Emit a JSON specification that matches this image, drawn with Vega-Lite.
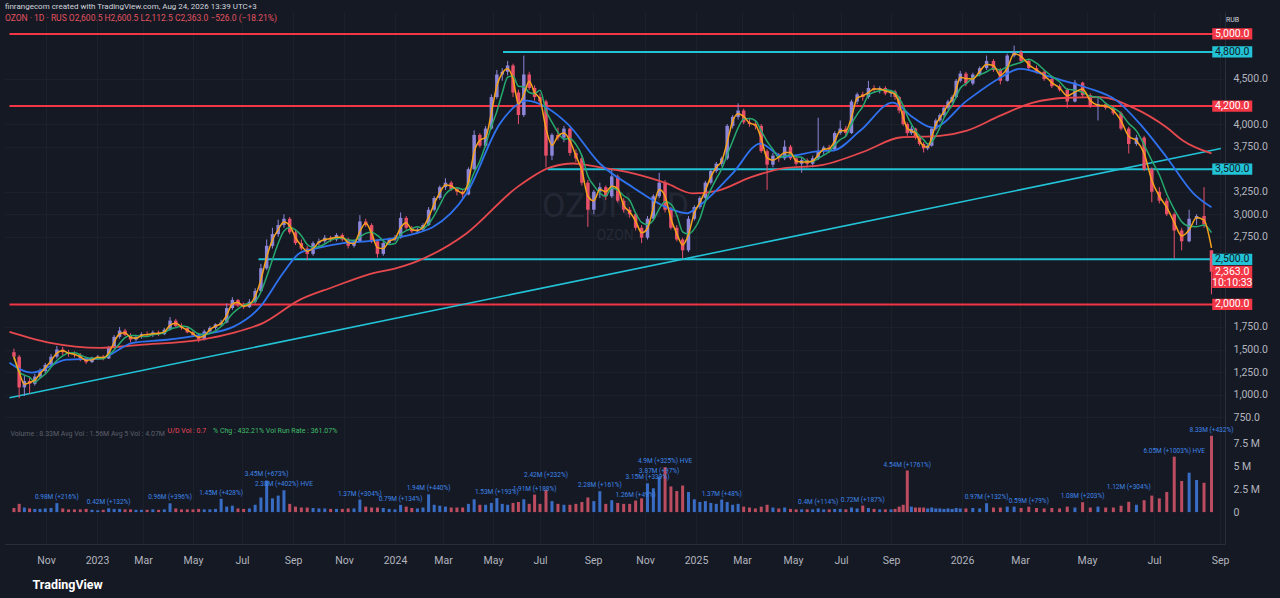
{
  "$schema": "https://vega.github.io/schema/vega-lite/v6.json",
  "width": 1280,
  "height": 598,
  "autosize": {"type": "fit", "contains": "padding"},
  "padding": {"left": 5, "right": 5, "top": 2, "bottom": 7},
  "background": "#151924",
  "title": {
    "text": "finrangecom created with TradingView.com, Aug 24, 2026 13:39 UTC+3",
    "subtitle": "OZON · 1D · RUS   O2,600.5  H2,600.5  L2,112.5  C2,363.0  −526.0 (−18.21%)",
    "anchor": "start", "frame": "group", "fontSize": 8, "fontWeight": "normal",
    "font": "Roboto", "color": "#d1d4dc", "offset": -10,
    "subtitleFont": "Roboto", "subtitleFontSize": 8.5, "subtitleColor": "#e2535f", "subtitlePadding": 3
  },
  "datasets": {
    "candles": [
      {"d":"2022-09-19","o":1470,"h":1510,"l":1390,"c":1420,"v":0.45},
      {"d":"2022-09-26","o":1420,"h":1440,"l":960,"c":1080,"v":0.9},
      {"d":"2022-10-03","o":1080,"h":1210,"l":985,"c":1150,"v":0.5},
      {"d":"2022-10-10","o":1150,"h":1190,"l":1010,"c":1120,"v":0.4},
      {"d":"2022-10-17","o":1120,"h":1230,"l":1100,"c":1200,"v":0.35},
      {"d":"2022-10-24","o":1200,"h":1290,"l":1180,"c":1260,"v":0.35},
      {"d":"2022-10-31","o":1260,"h":1350,"l":1240,"c":1330,"v":0.4},
      {"d":"2022-11-07","o":1330,"h":1450,"l":1310,"c":1420,"v":0.45},
      {"d":"2022-11-14","o":1420,"h":1540,"l":1400,"c":1500,"v":0.98},
      {"d":"2022-11-21","o":1500,"h":1530,"l":1440,"c":1470,"v":0.4},
      {"d":"2022-11-28","o":1470,"h":1495,"l":1420,"c":1450,"v":0.3},
      {"d":"2022-12-05","o":1450,"h":1480,"l":1410,"c":1440,"v":0.3},
      {"d":"2022-12-12","o":1440,"h":1460,"l":1370,"c":1400,"v":0.3},
      {"d":"2022-12-19","o":1400,"h":1420,"l":1340,"c":1360,"v":0.35},
      {"d":"2022-12-26","o":1360,"h":1420,"l":1350,"c":1410,"v":0.25},
      {"d":"2023-01-02","o":1410,"h":1440,"l":1390,"c":1420,"v":0.2},
      {"d":"2023-01-09","o":1420,"h":1440,"l":1380,"c":1400,"v":0.25},
      {"d":"2023-01-16","o":1400,"h":1540,"l":1395,"c":1520,"v":0.42},
      {"d":"2023-01-23","o":1520,"h":1660,"l":1510,"c":1640,"v":0.35},
      {"d":"2023-01-30","o":1640,"h":1750,"l":1620,"c":1710,"v":0.35},
      {"d":"2023-02-06","o":1710,"h":1730,"l":1650,"c":1660,"v":0.3},
      {"d":"2023-02-13","o":1660,"h":1680,"l":1580,"c":1610,"v":0.3},
      {"d":"2023-02-20","o":1610,"h":1650,"l":1590,"c":1640,"v":0.25},
      {"d":"2023-02-27","o":1640,"h":1690,"l":1620,"c":1670,"v":0.25},
      {"d":"2023-03-06","o":1670,"h":1700,"l":1640,"c":1660,"v":0.25},
      {"d":"2023-03-13","o":1660,"h":1710,"l":1640,"c":1690,"v":0.3},
      {"d":"2023-03-20","o":1690,"h":1710,"l":1650,"c":1670,"v":0.25},
      {"d":"2023-03-27","o":1670,"h":1740,"l":1660,"c":1720,"v":0.3},
      {"d":"2023-04-03","o":1720,"h":1860,"l":1710,"c":1820,"v":0.96},
      {"d":"2023-04-10","o":1820,"h":1840,"l":1750,"c":1760,"v":0.4},
      {"d":"2023-04-17","o":1760,"h":1790,"l":1720,"c":1740,"v":0.3},
      {"d":"2023-04-24","o":1740,"h":1760,"l":1680,"c":1690,"v":0.3},
      {"d":"2023-05-01","o":1690,"h":1710,"l":1640,"c":1660,"v":0.3},
      {"d":"2023-05-08","o":1660,"h":1680,"l":1580,"c":1610,"v":0.35},
      {"d":"2023-05-15","o":1610,"h":1720,"l":1600,"c":1700,"v":0.3},
      {"d":"2023-05-22","o":1700,"h":1760,"l":1690,"c":1740,"v":0.3},
      {"d":"2023-05-29","o":1740,"h":1790,"l":1720,"c":1780,"v":0.35},
      {"d":"2023-06-05","o":1780,"h":1830,"l":1760,"c":1800,"v":1.45},
      {"d":"2023-06-12","o":1800,"h":2010,"l":1790,"c":1960,"v":0.6},
      {"d":"2023-06-19","o":1960,"h":2080,"l":1940,"c":2050,"v":0.7},
      {"d":"2023-06-26","o":2050,"h":2060,"l":1970,"c":1990,"v":0.4},
      {"d":"2023-07-03","o":1990,"h":2020,"l":1950,"c":1970,"v":0.35},
      {"d":"2023-07-10","o":1970,"h":2060,"l":1960,"c":2030,"v":0.4},
      {"d":"2023-07-17","o":2030,"h":2180,"l":2010,"c":2150,"v":0.8},
      {"d":"2023-07-24","o":2150,"h":2450,"l":2140,"c":2400,"v":1.6},
      {"d":"2023-07-31","o":2400,"h":2720,"l":2380,"c":2650,"v":3.45},
      {"d":"2023-08-07","o":2650,"h":2850,"l":2620,"c":2780,"v":1.5},
      {"d":"2023-08-14","o":2780,"h":2940,"l":2750,"c":2880,"v":1.8},
      {"d":"2023-08-21","o":2880,"h":3000,"l":2850,"c":2950,"v":2.38},
      {"d":"2023-08-28","o":2950,"h":2970,"l":2780,"c":2800,"v":0.9},
      {"d":"2023-09-04","o":2800,"h":2830,"l":2660,"c":2680,"v":0.6},
      {"d":"2023-09-11","o":2680,"h":2720,"l":2600,"c":2620,"v":0.5},
      {"d":"2023-09-18","o":2620,"h":2650,"l":2490,"c":2560,"v":0.5},
      {"d":"2023-09-25","o":2560,"h":2700,"l":2540,"c":2680,"v":0.45},
      {"d":"2023-10-02","o":2680,"h":2730,"l":2650,"c":2700,"v":0.4},
      {"d":"2023-10-09","o":2700,"h":2770,"l":2680,"c":2740,"v":0.4},
      {"d":"2023-10-16","o":2740,"h":2760,"l":2690,"c":2720,"v":0.35},
      {"d":"2023-10-23","o":2720,"h":2790,"l":2700,"c":2770,"v":0.35},
      {"d":"2023-10-30","o":2770,"h":2790,"l":2700,"c":2720,"v":0.35},
      {"d":"2023-11-06","o":2720,"h":2740,"l":2620,"c":2650,"v":0.4},
      {"d":"2023-11-13","o":2650,"h":2720,"l":2630,"c":2700,"v":0.4},
      {"d":"2023-11-20","o":2700,"h":2990,"l":2690,"c":2920,"v":1.37},
      {"d":"2023-11-27","o":2920,"h":2950,"l":2860,"c":2880,"v":0.6},
      {"d":"2023-12-04","o":2880,"h":2900,"l":2680,"c":2700,"v":0.5},
      {"d":"2023-12-11","o":2700,"h":2720,"l":2520,"c":2560,"v":0.5},
      {"d":"2023-12-18","o":2560,"h":2700,"l":2540,"c":2680,"v":0.45},
      {"d":"2023-12-25","o":2680,"h":2740,"l":2660,"c":2720,"v":0.35},
      {"d":"2024-01-01","o":2720,"h":2770,"l":2700,"c":2740,"v":0.3},
      {"d":"2024-01-08","o":2740,"h":3020,"l":2730,"c":2960,"v":0.79},
      {"d":"2024-01-15","o":2960,"h":2980,"l":2830,"c":2850,"v":0.6},
      {"d":"2024-01-22","o":2850,"h":2870,"l":2790,"c":2810,"v":0.45},
      {"d":"2024-01-29","o":2810,"h":2850,"l":2780,"c":2830,"v":0.4},
      {"d":"2024-02-05","o":2830,"h":2900,"l":2810,"c":2880,"v":0.5},
      {"d":"2024-02-12","o":2880,"h":3080,"l":2870,"c":3050,"v":1.94},
      {"d":"2024-02-19","o":3050,"h":3200,"l":3030,"c":3180,"v":0.8},
      {"d":"2024-02-26","o":3180,"h":3320,"l":3160,"c":3300,"v":0.7},
      {"d":"2024-03-04","o":3300,"h":3400,"l":3270,"c":3350,"v":0.6},
      {"d":"2024-03-11","o":3350,"h":3370,"l":3260,"c":3280,"v":0.5},
      {"d":"2024-03-18","o":3280,"h":3300,"l":3210,"c":3250,"v":0.5},
      {"d":"2024-03-25","o":3250,"h":3270,"l":3180,"c":3220,"v":0.5},
      {"d":"2024-04-01","o":3220,"h":3520,"l":3210,"c":3500,"v":0.9},
      {"d":"2024-04-08","o":3500,"h":3930,"l":3490,"c":3880,"v":1.4},
      {"d":"2024-04-15","o":3880,"h":3900,"l":3740,"c":3760,"v":0.8},
      {"d":"2024-04-22","o":3760,"h":3980,"l":3740,"c":3950,"v":0.8},
      {"d":"2024-04-29","o":3950,"h":4330,"l":3940,"c":4300,"v":1.0},
      {"d":"2024-05-06","o":4300,"h":4600,"l":4280,"c":4550,"v":1.53},
      {"d":"2024-05-13","o":4550,"h":4620,"l":4480,"c":4580,"v":0.9},
      {"d":"2024-05-20","o":4580,"h":4700,"l":4540,"c":4650,"v":0.8},
      {"d":"2024-05-27","o":4650,"h":4670,"l":4300,"c":4350,"v":1.0},
      {"d":"2024-06-03","o":4350,"h":4380,"l":4000,"c":4100,"v":1.1},
      {"d":"2024-06-10","o":4100,"h":4760,"l":4080,"c":4550,"v":1.4},
      {"d":"2024-06-17","o":4550,"h":4580,"l":4380,"c":4400,"v":0.9},
      {"d":"2024-06-24","o":4400,"h":4430,"l":4260,"c":4300,"v":1.91},
      {"d":"2024-07-01","o":4300,"h":4340,"l":4220,"c":4250,"v":0.9},
      {"d":"2024-07-08","o":4250,"h":4270,"l":3520,"c":3650,"v":2.42},
      {"d":"2024-07-15","o":3650,"h":3900,"l":3600,"c":3880,"v":1.2},
      {"d":"2024-07-22","o":3880,"h":3960,"l":3820,"c":3850,"v":0.9},
      {"d":"2024-07-29","o":3850,"h":3980,"l":3800,"c":3950,"v":0.8},
      {"d":"2024-08-05","o":3950,"h":3960,"l":3650,"c":3680,"v":0.8},
      {"d":"2024-08-12","o":3680,"h":3720,"l":3580,"c":3620,"v":0.9},
      {"d":"2024-08-19","o":3620,"h":3650,"l":3320,"c":3350,"v":1.1},
      {"d":"2024-08-26","o":3350,"h":3380,"l":2860,"c":3050,"v":1.6},
      {"d":"2024-09-02","o":3050,"h":3270,"l":3000,"c":3250,"v":1.2},
      {"d":"2024-09-09","o":3250,"h":3350,"l":3180,"c":3300,"v":2.28},
      {"d":"2024-09-16","o":3300,"h":3320,"l":3160,"c":3200,"v":0.9},
      {"d":"2024-09-23","o":3200,"h":3490,"l":3180,"c":3420,"v":1.3},
      {"d":"2024-09-30","o":3420,"h":3440,"l":3130,"c":3150,"v":1.0},
      {"d":"2024-10-07","o":3150,"h":3180,"l":3020,"c":3050,"v":0.9},
      {"d":"2024-10-14","o":3050,"h":3080,"l":2960,"c":3000,"v":0.9},
      {"d":"2024-10-21","o":3000,"h":3020,"l":2820,"c":2850,"v":1.26},
      {"d":"2024-10-28","o":2850,"h":2880,"l":2680,"c":2740,"v":1.5},
      {"d":"2024-11-04","o":2740,"h":2980,"l":2720,"c":2950,"v":3.15},
      {"d":"2024-11-11","o":2950,"h":3220,"l":2930,"c":3200,"v":2.6},
      {"d":"2024-11-18","o":3200,"h":3460,"l":3180,"c":3350,"v":3.87},
      {"d":"2024-11-25","o":3350,"h":3380,"l":3020,"c":3050,"v":4.9},
      {"d":"2024-12-02","o":3050,"h":3080,"l":2830,"c":2850,"v":2.8},
      {"d":"2024-12-09","o":2850,"h":2880,"l":2700,"c":2720,"v":2.3},
      {"d":"2024-12-16","o":2720,"h":2740,"l":2510,"c":2600,"v":2.9},
      {"d":"2024-12-23","o":2600,"h":2980,"l":2580,"c":2950,"v":2.2},
      {"d":"2024-12-30","o":2950,"h":3100,"l":2930,"c":3080,"v":1.4},
      {"d":"2025-01-06","o":3080,"h":3200,"l":3060,"c":3180,"v":1.1},
      {"d":"2025-01-13","o":3180,"h":3370,"l":3160,"c":3350,"v":1.2},
      {"d":"2025-01-20","o":3350,"h":3500,"l":3330,"c":3480,"v":1.0},
      {"d":"2025-01-27","o":3480,"h":3580,"l":3460,"c":3560,"v":0.9},
      {"d":"2025-02-03","o":3560,"h":3640,"l":3530,"c":3620,"v":1.37},
      {"d":"2025-02-10","o":3620,"h":4000,"l":3600,"c":3980,"v":1.1},
      {"d":"2025-02-17","o":3980,"h":4100,"l":3950,"c":4080,"v":0.8},
      {"d":"2025-02-24","o":4080,"h":4230,"l":4050,"c":4150,"v":0.9},
      {"d":"2025-03-03","o":4150,"h":4170,"l":4000,"c":4020,"v":0.6},
      {"d":"2025-03-10","o":4020,"h":4060,"l":3970,"c":4000,"v":0.5},
      {"d":"2025-03-17","o":4000,"h":4030,"l":3940,"c":3980,"v":0.4},
      {"d":"2025-03-24","o":3980,"h":4000,"l":3680,"c":3700,"v":0.6},
      {"d":"2025-03-31","o":3700,"h":3720,"l":3270,"c":3550,"v":0.8},
      {"d":"2025-04-07","o":3550,"h":3680,"l":3520,"c":3650,"v":0.5},
      {"d":"2025-04-14","o":3650,"h":3680,"l":3580,"c":3620,"v":0.4},
      {"d":"2025-04-21","o":3620,"h":3820,"l":3600,"c":3750,"v":0.5},
      {"d":"2025-04-28","o":3750,"h":3770,"l":3600,"c":3620,"v":0.35},
      {"d":"2025-05-05","o":3620,"h":3650,"l":3540,"c":3560,"v":0.3},
      {"d":"2025-05-12","o":3560,"h":3630,"l":3460,"c":3600,"v":0.3},
      {"d":"2025-05-19","o":3600,"h":3620,"l":3520,"c":3560,"v":0.3},
      {"d":"2025-05-26","o":3560,"h":3650,"l":3520,"c":3620,"v":0.3},
      {"d":"2025-06-02","o":3620,"h":4070,"l":3600,"c":3700,"v":0.4},
      {"d":"2025-06-09","o":3700,"h":3760,"l":3660,"c":3740,"v":0.3},
      {"d":"2025-06-16","o":3740,"h":3770,"l":3680,"c":3720,"v":0.3},
      {"d":"2025-06-23","o":3720,"h":3920,"l":3700,"c":3900,"v":0.35},
      {"d":"2025-06-30","o":3900,"h":4040,"l":3880,"c":3950,"v":0.35},
      {"d":"2025-07-07","o":3950,"h":3980,"l":3860,"c":3900,"v":0.3},
      {"d":"2025-07-14","o":3900,"h":4270,"l":3890,"c":4250,"v":0.5},
      {"d":"2025-07-21","o":4250,"h":4350,"l":4220,"c":4330,"v":0.4},
      {"d":"2025-07-28","o":4330,"h":4360,"l":4260,"c":4300,"v":0.72},
      {"d":"2025-08-04","o":4300,"h":4480,"l":4280,"c":4400,"v":0.45},
      {"d":"2025-08-11","o":4400,"h":4430,"l":4350,"c":4380,"v":0.35},
      {"d":"2025-08-18","o":4380,"h":4420,"l":4340,"c":4400,"v":0.3},
      {"d":"2025-08-25","o":4400,"h":4420,"l":4320,"c":4340,"v":0.3},
      {"d":"2025-09-01","o":4340,"h":4380,"l":4300,"c":4360,"v":0.3},
      {"d":"2025-09-08","o":4360,"h":4380,"l":4270,"c":4300,"v":0.35},
      {"d":"2025-09-15","o":4300,"h":4310,"l":4120,"c":4150,"v":0.6},
      {"d":"2025-09-22","o":4150,"h":4160,"l":3980,"c":4000,"v":0.8},
      {"d":"2025-09-29","o":4000,"h":4020,"l":3870,"c":3900,"v":4.54},
      {"d":"2025-10-06","o":3900,"h":3980,"l":3880,"c":3950,"v":0.6},
      {"d":"2025-10-13","o":3950,"h":3960,"l":3830,"c":3850,"v":0.5},
      {"d":"2025-10-20","o":3850,"h":3870,"l":3760,"c":3780,"v":0.5},
      {"d":"2025-10-27","o":3780,"h":3800,"l":3685,"c":3730,"v":0.5},
      {"d":"2025-11-03","o":3730,"h":3790,"l":3710,"c":3760,"v":0.4},
      {"d":"2025-11-10","o":3760,"h":3970,"l":3750,"c":3950,"v":0.5},
      {"d":"2025-11-17","o":3950,"h":4060,"l":3930,"c":4040,"v":0.4},
      {"d":"2025-11-24","o":4040,"h":4120,"l":4020,"c":4100,"v":0.4},
      {"d":"2025-12-01","o":4100,"h":4200,"l":4080,"c":4180,"v":0.35},
      {"d":"2025-12-08","o":4180,"h":4270,"l":4160,"c":4250,"v":0.4},
      {"d":"2025-12-15","o":4250,"h":4320,"l":4230,"c":4300,"v":0.35},
      {"d":"2025-12-22","o":4300,"h":4500,"l":4290,"c":4480,"v":0.45},
      {"d":"2025-12-29","o":4480,"h":4590,"l":4460,"c":4560,"v":0.4},
      {"d":"2026-01-05","o":4560,"h":4580,"l":4420,"c":4450,"v":0.4},
      {"d":"2026-01-12","o":4450,"h":4570,"l":4430,"c":4550,"v":0.45},
      {"d":"2026-01-19","o":4550,"h":4640,"l":4530,"c":4620,"v":0.4},
      {"d":"2026-01-26","o":4620,"h":4760,"l":4600,"c":4700,"v":0.97},
      {"d":"2026-02-02","o":4700,"h":4720,"l":4580,"c":4600,"v":0.5},
      {"d":"2026-02-09","o":4600,"h":4620,"l":4440,"c":4480,"v":0.5},
      {"d":"2026-02-16","o":4480,"h":4780,"l":4470,"c":4760,"v":0.6},
      {"d":"2026-02-23","o":4760,"h":4870,"l":4740,"c":4800,"v":0.6},
      {"d":"2026-03-02","o":4800,"h":4820,"l":4680,"c":4700,"v":0.45},
      {"d":"2026-03-09","o":4700,"h":4720,"l":4600,"c":4620,"v":0.59},
      {"d":"2026-03-16","o":4620,"h":4650,"l":4560,"c":4580,"v":0.45},
      {"d":"2026-03-23","o":4580,"h":4600,"l":4480,"c":4500,"v":0.4},
      {"d":"2026-03-30","o":4500,"h":4520,"l":4400,"c":4420,"v":0.45},
      {"d":"2026-04-06","o":4420,"h":4440,"l":4360,"c":4380,"v":0.4},
      {"d":"2026-04-13","o":4380,"h":4400,"l":4180,"c":4250,"v":0.6},
      {"d":"2026-04-20","o":4250,"h":4490,"l":4240,"c":4460,"v":0.5},
      {"d":"2026-04-27","o":4460,"h":4470,"l":4300,"c":4320,"v":1.08},
      {"d":"2026-05-04","o":4320,"h":4340,"l":4180,"c":4200,"v":0.5},
      {"d":"2026-05-11","o":4200,"h":4300,"l":4040,"c":4220,"v":0.6},
      {"d":"2026-05-18","o":4220,"h":4240,"l":4160,"c":4180,"v":0.5},
      {"d":"2026-05-25","o":4180,"h":4200,"l":4100,"c":4120,"v":0.5},
      {"d":"2026-06-01","o":4120,"h":4140,"l":3930,"c":3950,"v":0.7},
      {"d":"2026-06-08","o":3950,"h":3970,"l":3674,"c":3780,"v":1.12},
      {"d":"2026-06-15","o":3780,"h":3880,"l":3760,"c":3850,"v":0.8},
      {"d":"2026-06-22","o":3850,"h":3870,"l":3480,"c":3500,"v":1.3},
      {"d":"2026-06-29","o":3500,"h":3520,"l":3133,"c":3250,"v":1.8},
      {"d":"2026-07-06","o":3250,"h":3300,"l":3120,"c":3150,"v":1.5},
      {"d":"2026-07-13","o":3150,"h":3180,"l":2980,"c":3000,"v":2.2},
      {"d":"2026-07-20","o":3000,"h":3020,"l":2514,"c":2820,"v":6.05},
      {"d":"2026-07-27","o":2820,"h":2850,"l":2600,"c":2700,"v":3.4},
      {"d":"2026-08-03","o":2700,"h":3050,"l":2690,"c":2950,"v":4.3},
      {"d":"2026-08-10","o":2950,"h":3000,"l":2880,"c":2980,"v":3.5},
      {"d":"2026-08-17","o":2980,"h":3300,"l":2850,"c":2889,"v":3.2},
      {"d":"2026-08-24","o":2600.5,"h":2600.5,"l":2112.5,"c":2363,"v":8.33}
    ],
    "ma50": [
      {"d":"2022-09-13","v":1354},{"d":"2022-10-13","v":1243},{"d":"2022-11-26","v":1387},
      {"d":"2023-01-05","v":1400},{"d":"2023-02-16","v":1574},{"d":"2023-03-30","v":1608},
      {"d":"2023-05-10","v":1663},{"d":"2023-06-20","v":1751},{"d":"2023-07-23","v":1972},
      {"d":"2023-08-20","v":2348},{"d":"2023-09-09","v":2569},{"d":"2023-09-30","v":2624},
      {"d":"2023-10-31","v":2680},{"d":"2023-11-28","v":2700},{"d":"2024-01-07","v":2746},
      {"d":"2024-02-01","v":2801},{"d":"2024-02-17","v":2856},{"d":"2024-03-30","v":3232},
      {"d":"2024-05-10","v":4005},{"d":"2024-06-14","v":4260},{"d":"2024-07-09","v":4182},
      {"d":"2024-08-02","v":4005},{"d":"2024-09-09","v":3563},{"d":"2024-10-18","v":3298},
      {"d":"2024-11-27","v":3077},{"d":"2024-12-21","v":3011},{"d":"2025-01-06","v":3100},
      {"d":"2025-02-17","v":3453},{"d":"2025-03-23","v":3784},{"d":"2025-04-19","v":3640},
      {"d":"2025-06-04","v":3700},{"d":"2025-06-21","v":3707},{"d":"2025-07-25","v":3928},
      {"d":"2025-09-04","v":4238},{"d":"2025-10-09","v":4072},{"d":"2025-11-12","v":3961},
      {"d":"2026-01-06","v":4260},{"d":"2026-02-09","v":4514},{"d":"2026-03-01","v":4613},
      {"d":"2026-03-31","v":4514},{"d":"2026-05-01","v":4403},{"d":"2026-05-28","v":4260},
      {"d":"2026-06-18","v":4005},{"d":"2026-07-13","v":3630},{"d":"2026-08-07","v":3232},
      {"d":"2026-08-24","v":3077}
    ],
    "ma200": [
      {"d":"2022-09-13","v":1696},{"d":"2022-11-06","v":1574},{"d":"2023-01-05","v":1519},
      {"d":"2023-02-25","v":1552},{"d":"2023-05-10","v":1608},{"d":"2023-06-20","v":1685},
      {"d":"2023-07-27","v":1796},{"d":"2023-09-09","v":2050},{"d":"2023-10-19","v":2193},
      {"d":"2023-11-28","v":2326},{"d":"2024-01-07","v":2414},{"d":"2024-02-01","v":2492},
      {"d":"2024-03-30","v":2790},{"d":"2024-06-01","v":3298},{"d":"2024-07-13","v":3520},
      {"d":"2024-08-09","v":3563},{"d":"2024-09-09","v":3520},{"d":"2024-10-18","v":3453},
      {"d":"2024-11-27","v":3342},{"d":"2024-12-28","v":3232},{"d":"2025-01-28","v":3260},
      {"d":"2025-03-11","v":3409},{"d":"2025-04-19","v":3508},{"d":"2025-06-04","v":3541},
      {"d":"2025-08-02","v":3707},{"d":"2025-09-16","v":3851},{"d":"2025-11-24","v":3870},
      {"d":"2026-01-06","v":3928},{"d":"2026-02-09","v":4094},{"d":"2026-03-13","v":4238},
      {"d":"2026-04-13","v":4292},{"d":"2026-05-13","v":4300},{"d":"2026-06-12","v":4182},
      {"d":"2026-07-13","v":3961},{"d":"2026-07-28","v":3818},{"d":"2026-08-24","v":3674}
    ],
    "levels": [
      {"d":"2022-09-13","p":5000,"set":"major"},
      {"d":"2024-05-14","p":4800,"set":"minor"},
      {"d":"2022-09-13","p":4200,"set":"major"},
      {"d":"2024-07-10","p":3500,"set":"minor"},
      {"d":"2023-07-21","p":2500,"set":"minor"},
      {"d":"2022-09-13","p":2000,"set":"major"}
    ],
    "last": [{"d":"2026-08-24","p": 2363, "t": "10:10:33"}],
    "trend": [
      {"d":"2022-09-13","p":965},
      {"d":"2026-09-03","p":3729}
    ],
    "spikes": [
      {"d":"2022-11-14","v":0.98,"t":"0.98M (+216%)"},
      {"d":"2023-01-16","v":0.42,"t":"0.42M (+132%)"},
      {"d":"2023-04-03","v":0.96,"t":"0.96M (+396%)"},
      {"d":"2023-06-05","v":1.45,"t":"1.45M (+428%)"},
      {"d":"2023-07-31","v":3.45,"t":"3.45M (+673%)"},
      {"d":"2023-08-21","v":2.38,"t":"2.38M (+402%) HVE"},
      {"d":"2023-11-20","v":1.37,"t":"1.37M (+304%)"},
      {"d":"2024-01-08","v":0.79,"t":"0.79M (+134%)"},
      {"d":"2024-02-12","v":1.94,"t":"1.94M (+440%)"},
      {"d":"2024-05-06","v":1.53,"t":"1.53M (+193%)"},
      {"d":"2024-06-24","v":1.91,"t":"1.91M (+188%)"},
      {"d":"2024-09-09","v":2.28,"t":"2.28M (+161%)"},
      {"d":"2024-10-21","v":1.26,"t":"1.26M (+49%)"},
      {"d":"2024-11-04","v":3.15,"t":"3.15M (+339%)"},
      {"d":"2024-11-18","v":3.87,"t":"3.87M (+97%)"},
      {"d":"2024-11-25","v":4.9,"t":"4.9M (+325%) HVE"},
      {"d":"2025-02-03","v":1.37,"t":"1.37M (+48%)"},
      {"d":"2025-06-02","v":0.4,"t":"0.4M (+114%)"},
      {"d":"2025-07-28","v":0.72,"t":"0.72M (+187%)"},
      {"d":"2025-09-29","v":4.54,"t":"4.54M (+1761%)"},
      {"d":"2026-01-26","v":0.97,"t":"0.97M (+132%)"},
      {"d":"2026-03-09","v":0.59,"t":"0.59M (+79%)"},
      {"d":"2026-04-27","v":1.08,"t":"1.08M (+203%)"},
      {"d":"2026-07-20","v":6.05,"t":"6.05M (+1003%) HVE"},
      {"d":"2026-08-24","v":8.33,"t":"8.33M (+432%)"}
    ],
    "spikesHigh": [
      {"d":"2024-07-08","v":2.42,"t":"2.42M (+232%)"},
      {"d":"2026-06-08","v":1.12,"t":"1.12M (+304%)"}
    ],
    "noteOzon": [{"d":"2026-08-24","t": "OZON"}],
    "noteRub": [{"d":"2026-08-24","t": "RUB"}],
    "noteUd": [{"d":"2026-08-24","t": "U/D Vol : 0.7"}],
    "noteChg": [{"d":"2026-08-24","t": "% Chg : 432.21%    Vol Run Rate : 361.07%"}]
  },
  "encoding": {
    "x": {
      "field": "d", "type": "quantitative",
      "scale": {"type": "linear", "nice": false, "zero": false, "domain": [1663027200000,1667260800000,1672531200000,1677628800000,1682899200000,1688169600000,1693526400000,1698796800000,1704067200000,1709251200000,1714521600000,1719792000000,1725148800000,1730419200000,1735689600000,1740787200000,1746057600000,1751328000000,1756684800000,1767225600000,1772323200000,1777593600000,1782864000000,1788220800000,1788652800000], "range": [0,41,92,138,188,237,288,339,390,438,488,535,588,640,691,737,788,836,886,957,1015,1082,1149,1215,1220]},
      "axis": {
        "orient": "bottom",
        "values": [1667260800000,1672531200000,1677628800000,1682899200000,1688169600000,1693526400000,1698796800000,1704067200000,1709251200000,1714521600000,1719792000000,1725148800000,1730419200000,1735689600000,1740787200000,1746057600000,1751328000000,1756684800000,1767225600000,1772323200000,1777593600000,1782864000000,1788220800000],
        "labelExpr": "utcFormat(datum.value, '%m') == '01' ? utcFormat(datum.value, '%Y') : utcFormat(datum.value, '%b')",
        "grid": true, "gridColor": "#1c202b",
        "domain": true, "domainColor": "#2a2e39",
        "ticks": false, "labelPadding": 11, "labelOverlap": false, "labelFlush": false,
        "title": "TradingView", "titleColor": "#ffffff", "titleFontSize": 12.5,
        "titleFontWeight": "bold", "titleX": 27, "titleY": 40,
        "titleAlign": "left", "titleBaseline": "middle", "titleAnchor": "start"
      }
    }
  },
  "layer": [
    {
      "layer": [
        {
          "data": {"name": "noteOzon", "format": {"parse": {"d": "date"}}},
          "mark": {"type": "text", "fontSize": 14, "color": "#252936", "align": "center", "baseline": "middle"},
          "encoding": {
            "x": {"datum": 1727395200000, "type": "quantitative", "scale": {"type": "linear", "nice": false, "zero": false, "domain": [1663027200000,1667260800000,1672531200000,1677628800000,1682899200000,1688169600000,1693526400000,1698796800000,1704067200000,1709251200000,1714521600000,1719792000000,1725148800000,1730419200000,1735689600000,1740787200000,1746057600000,1751328000000,1756684800000,1767225600000,1772323200000,1777593600000,1782864000000,1788220800000,1788652800000], "range": [0,41,92,138,188,237,288,339,390,438,488,535,588,640,691,737,788,836,886,957,1015,1082,1149,1215,1220]}},
            "y": {"datum": 2757, "type": "quantitative", "scale": {"domain": [-657, 5243], "nice": false, "zero": false}},
            "text": {"field": "t"}
          }
        },
        {
          "data": {"name": "levels", "format": {"parse": {"d": "date"}}},
          "mark": {"type": "rule", "strokeWidth": 2},
          "encoding": {
            "x2": {"datum": 1788825600000},
            "y": {"field": "p", "type": "quantitative", "scale": {"domain": [-657, 5243], "nice": false, "zero": false}},
            "color": {"condition": {"test": "datum.set == 'major'", "value": "#f23645"}, "value": "#22c3d6"}
          }
        },
        {
          "data": {"name": "trend", "format": {"parse": {"d": "date"}}},
          "mark": {"type": "line", "strokeWidth": 1.6, "color": "#22c3d6"},
          "encoding": {
            "y": {"field": "p", "type": "quantitative", "scale": {"domain": [-657, 5243], "nice": false, "zero": false}}
          }
        },
        {
          "data": {"name": "candles", "format": {"parse": {"d": "date"}}},
          "mark": {"type": "rule", "strokeWidth": 1},
          "encoding": {
            "y": {
              "field": "l", "type": "quantitative",
              "scale": {"domain": [-657, 5243], "nice": false, "zero": false},
              "axis": {
                "orient": "right", "minExtent": 50, "maxExtent": 50,
                "values": [750,1000,1250,1500,1750,2750,3000,3250,3750,4000,4500],
                "format": ",.1f", "labelOverlap": false,
                "grid": true, "gridColor": "#1c202b",
                "domain": true, "domainColor": "#2a2e39",
                "ticks": false, "labelPadding": 8, "labelAlign": "left",
                "title": "OZON, 1D", "titleAngle": 0, "titleX": -610, "titleY": 194,
                "titleAlign": "center", "titleBaseline": "middle", "titleFontSize": 34,
                "titleFontWeight": "normal", "titleColor": "#232734"
              }
            },
            "y2": {"field": "h"},
            "color": {"condition": {"test": "datum.c >= datum.o", "value": "#8d85d8"}, "value": "#e8506a"}
          }
        },
        {
          "data": {"name": "candles", "format": {"parse": {"d": "date"}}},
          "mark": {"type": "bar", "width": 3.5},
          "encoding": {
            "y": {"field": "o", "type": "quantitative", "scale": {"domain": [-657, 5243], "nice": false, "zero": false}},
            "y2": {"field": "c"},
            "color": {"condition": {"test": "datum.c >= datum.o", "value": "#8d85d8"}, "value": "#e8506a"}
          }
        },
        {
          "data": {"name": "ma200", "format": {"parse": {"d": "date"}}},
          "mark": {"type": "line", "strokeWidth": 1.8, "color": "#e5484d", "interpolate": "monotone"},
          "encoding": {
            "y": {"field": "v", "type": "quantitative", "scale": {"domain": [-657, 5243], "nice": false, "zero": false}}
          }
        },
        {
          "data": {"name": "ma50", "format": {"parse": {"d": "date"}}},
          "mark": {"type": "line", "strokeWidth": 1.8, "color": "#2f72f0", "interpolate": "monotone"},
          "encoding": {
            "y": {"field": "v", "type": "quantitative", "scale": {"domain": [-657, 5243], "nice": false, "zero": false}}
          }
        },
        {
          "data": {"name": "candles", "format": {"parse": {"d": "date"}}},
          "transform": [{"window": [{"op": "mean", "field": "c", "as": "m4"}], "frame": [-3, 0], "sort": [{"field": "d"}]}],
          "mark": {"type": "line", "strokeWidth": 1.5, "color": "#26a96c", "interpolate": "monotone"},
          "encoding": {
            "y": {"field": "m4", "type": "quantitative", "scale": {"domain": [-657, 5243], "nice": false, "zero": false}}
          }
        },
        {
          "data": {"name": "candles", "format": {"parse": {"d": "date"}}},
          "transform": [{"window": [{"op": "mean", "field": "c", "as": "m2"}], "frame": [-1, 0], "sort": [{"field": "d"}]}],
          "mark": {"type": "line", "strokeWidth": 1.5, "color": "#f7a21b", "interpolate": "monotone"},
          "encoding": {
            "y": {"field": "m2", "type": "quantitative", "scale": {"domain": [-657, 5243], "nice": false, "zero": false}}
          }
        },
        {
          "data": {"name": "levels", "format": {"parse": {"d": "date"}}},
          "mark": {"type": "point", "shape": "M-1,-0.28L1,-0.28L1,0.28L-1,0.28Z", "size": 1600, "filled": true, "opacity": 1, "strokeWidth": 0},
          "encoding": {
            "x": {"datum": 1790553600000, "type": "quantitative", "scale": {"type": "linear", "nice": false, "zero": false, "domain": [1663027200000,1667260800000,1672531200000,1677628800000,1682899200000,1688169600000,1693526400000,1698796800000,1704067200000,1709251200000,1714521600000,1719792000000,1725148800000,1730419200000,1735689600000,1740787200000,1746057600000,1751328000000,1756684800000,1767225600000,1772323200000,1777593600000,1782864000000,1788220800000,1788652800000], "range": [0,41,92,138,188,237,288,339,390,438,488,535,588,640,691,737,788,836,886,957,1015,1082,1149,1215,1220]}},
            "y": {"field": "p", "type": "quantitative", "scale": {"domain": [-657, 5243], "nice": false, "zero": false}},
            "color": {"condition": {"test": "datum.set == 'major'", "value": "#f23645"}, "value": "#22c3d6"}
          }
        },
        {
          "data": {"name": "levels", "format": {"parse": {"d": "date"}}},
          "mark": {"type": "text", "fontSize": 10.5, "align": "center", "baseline": "middle"},
          "encoding": {
            "x": {"datum": 1790553600000, "type": "quantitative", "scale": {"type": "linear", "nice": false, "zero": false, "domain": [1663027200000,1667260800000,1672531200000,1677628800000,1682899200000,1688169600000,1693526400000,1698796800000,1704067200000,1709251200000,1714521600000,1719792000000,1725148800000,1730419200000,1735689600000,1740787200000,1746057600000,1751328000000,1756684800000,1767225600000,1772323200000,1777593600000,1782864000000,1788220800000,1788652800000], "range": [0,41,92,138,188,237,288,339,390,438,488,535,588,640,691,737,788,836,886,957,1015,1082,1149,1215,1220]}},
            "y": {"field": "p", "type": "quantitative", "scale": {"domain": [-657, 5243], "nice": false, "zero": false}},
            "text": {"field": "p", "format": ",.1f"},
            "color": {"condition": {"test": "datum.set == 'major'", "value": "#ffffff"}, "value": "#131722"}
          }
        },
        {
          "data": {"name": "last", "format": {"parse": {"d": "date"}}},
          "mark": {"type": "point", "shape": "M-1,-0.3L1,-0.3L1,0.82L-1,0.82Z", "size": 1600, "filled": true, "opacity": 1, "strokeWidth": 0, "color": "#f23645"},
          "encoding": {
            "x": {"datum": 1790553600000, "type": "quantitative", "scale": {"type": "linear", "nice": false, "zero": false, "domain": [1663027200000,1667260800000,1672531200000,1677628800000,1682899200000,1688169600000,1693526400000,1698796800000,1704067200000,1709251200000,1714521600000,1719792000000,1725148800000,1730419200000,1735689600000,1740787200000,1746057600000,1751328000000,1756684800000,1767225600000,1772323200000,1777593600000,1782864000000,1788220800000,1788652800000], "range": [0,41,92,138,188,237,288,339,390,438,488,535,588,640,691,737,788,836,886,957,1015,1082,1149,1215,1220]}},
            "y": {"field": "p", "type": "quantitative", "scale": {"domain": [-657, 5243], "nice": false, "zero": false}}
          }
        },
        {
          "data": {"name": "last", "format": {"parse": {"d": "date"}}},
          "mark": {"type": "text", "fontSize": 10.5, "align": "center", "baseline": "middle", "color": "#ffffff"},
          "encoding": {
            "x": {"datum": 1790553600000, "type": "quantitative", "scale": {"type": "linear", "nice": false, "zero": false, "domain": [1663027200000,1667260800000,1672531200000,1677628800000,1682899200000,1688169600000,1693526400000,1698796800000,1704067200000,1709251200000,1714521600000,1719792000000,1725148800000,1730419200000,1735689600000,1740787200000,1746057600000,1751328000000,1756684800000,1767225600000,1772323200000,1777593600000,1782864000000,1788220800000,1788652800000], "range": [0,41,92,138,188,237,288,339,390,438,488,535,588,640,691,737,788,836,886,957,1015,1082,1149,1215,1220]}},
            "y": {"field": "p", "type": "quantitative", "scale": {"domain": [-657, 5243], "nice": false, "zero": false}},
            "text": {"field": "p", "format": ",.1f"}
          }
        },
        {
          "data": {"name": "last", "format": {"parse": {"d": "date"}}},
          "mark": {"type": "text", "fontSize": 10.5, "align": "center", "baseline": "middle", "color": "#ffffff", "dy": 11},
          "encoding": {
            "x": {"datum": 1790553600000, "type": "quantitative", "scale": {"type": "linear", "nice": false, "zero": false, "domain": [1663027200000,1667260800000,1672531200000,1677628800000,1682899200000,1688169600000,1693526400000,1698796800000,1704067200000,1709251200000,1714521600000,1719792000000,1725148800000,1730419200000,1735689600000,1740787200000,1746057600000,1751328000000,1756684800000,1767225600000,1772323200000,1777593600000,1782864000000,1788220800000,1788652800000], "range": [0,41,92,138,188,237,288,339,390,438,488,535,588,640,691,737,788,836,886,957,1015,1082,1149,1215,1220]}},
            "y": {"field": "p", "type": "quantitative", "scale": {"domain": [-657, 5243], "nice": false, "zero": false}},
            "text": {"field": "t"}
          }
        },
        {
          "data": {"name": "noteRub", "format": {"parse": {"d": "date"}}},
          "mark": {"type": "text", "fontSize": 7, "align": "left", "baseline": "middle", "color": "#d1d4dc"},
          "encoding": {
            "x": {"datum": 1789344000000, "type": "quantitative", "scale": {"type": "linear", "nice": false, "zero": false, "domain": [1663027200000,1667260800000,1672531200000,1677628800000,1682899200000,1688169600000,1693526400000,1698796800000,1704067200000,1709251200000,1714521600000,1719792000000,1725148800000,1730419200000,1735689600000,1740787200000,1746057600000,1751328000000,1756684800000,1767225600000,1772323200000,1777593600000,1782864000000,1788220800000,1788652800000], "range": [0,41,92,138,188,237,288,339,390,438,488,535,588,640,691,737,788,836,886,957,1015,1082,1149,1215,1220]}},
            "y": {"datum": 5150, "type": "quantitative", "scale": {"domain": [-657, 5243], "nice": false, "zero": false}},
            "text": {"field": "t"}
          }
        }
      ]
    },
    {
      "layer": [
        {
          "data": {"name": "candles", "format": {"parse": {"d": "date"}}},
          "mark": {"type": "bar", "width": 3, "opacity": 0.85},
          "encoding": {
            "y": {
              "field": "v", "type": "quantitative",
              "scale": {"domain": [-3.48, 54.57], "nice": false, "zero": false},
              "axis": {
                "orient": "right", "minExtent": 50, "maxExtent": 50,
                "values": [0, 2.5, 5, 7.5], "labelOverlap": false,
                "labelExpr": "datum.value == 0 ? '0' : datum.value + ' M'",
                "grid": false, "domain": false, "ticks": false,
                "labelPadding": 8, "labelAlign": "left",
                "title": "Volume : 8.33M  Avg Vol : 1.56M  Avg 5 Vol : 4.07M",
                "titleAngle": 0, "titleX": -1215, "titleY": 421,
                "titleAlign": "left", "titleBaseline": "middle", "titleFontSize": 7,
                "titleFontWeight": "normal", "titleColor": "#5d606b"
              }
            },
            "y2": {"datum": 0},
            "color": {"condition": {"test": "datum.c >= datum.o", "value": "#3f7be0"}, "value": "#d9566a"}
          }
        },
        {
          "data": {"name": "spikes", "format": {"parse": {"d": "date"}}},
          "mark": {"type": "text", "fontSize": 6.5, "align": "center", "baseline": "bottom", "dy": -3, "color": "#3f86e8"},
          "encoding": {
            "y": {"field": "v", "type": "quantitative", "scale": {"domain": [-3.48, 54.57], "nice": false, "zero": false}},
            "text": {"field": "t"}
          }
        },
        {
          "data": {"name": "spikesHigh", "format": {"parse": {"d": "date"}}},
          "mark": {"type": "text", "fontSize": 6.5, "align": "center", "baseline": "bottom", "dy": -12, "color": "#3f86e8"},
          "encoding": {
            "y": {"field": "v", "type": "quantitative", "scale": {"domain": [-3.48, 54.57], "nice": false, "zero": false}},
            "text": {"field": "t"}
          }
        },
        {
          "data": {"name": "noteUd", "format": {"parse": {"d": "date"}}},
          "mark": {"type": "text", "fontSize": 7, "align": "left", "baseline": "middle", "color": "#e8455a"},
          "encoding": {
            "x": {"datum": 1680220800000, "type": "quantitative", "scale": {"type": "linear", "nice": false, "zero": false, "domain": [1663027200000,1667260800000,1672531200000,1677628800000,1682899200000,1688169600000,1693526400000,1698796800000,1704067200000,1709251200000,1714521600000,1719792000000,1725148800000,1730419200000,1735689600000,1740787200000,1746057600000,1751328000000,1756684800000,1767225600000,1772323200000,1777593600000,1782864000000,1788220800000,1788652800000], "range": [0,41,92,138,188,237,288,339,390,438,488,535,588,640,691,737,788,836,886,957,1015,1082,1149,1215,1220]}},
            "y": {"datum": 8.8, "type": "quantitative", "scale": {"domain": [-3.48, 54.57], "nice": false, "zero": false}},
            "text": {"field": "t"}
          }
        },
        {
          "data": {"name": "noteChg", "format": {"parse": {"d": "date"}}},
          "mark": {"type": "text", "fontSize": 7, "align": "left", "baseline": "middle", "color": "#3fbf6a"},
          "encoding": {
            "x": {"datum": 1685059200000, "type": "quantitative", "scale": {"type": "linear", "nice": false, "zero": false, "domain": [1663027200000,1667260800000,1672531200000,1677628800000,1682899200000,1688169600000,1693526400000,1698796800000,1704067200000,1709251200000,1714521600000,1719792000000,1725148800000,1730419200000,1735689600000,1740787200000,1746057600000,1751328000000,1756684800000,1767225600000,1772323200000,1777593600000,1782864000000,1788220800000,1788652800000], "range": [0,41,92,138,188,237,288,339,390,438,488,535,588,640,691,737,788,836,886,957,1015,1082,1149,1215,1220]}},
            "y": {"datum": 8.8, "type": "quantitative", "scale": {"domain": [-3.48, 54.57], "nice": false, "zero": false}},
            "text": {"field": "t"}
          }
        }
      ]
    }
  ],
  "resolve": {"scale": {"y": "independent"}, "axis": {"y": "independent"}},
  "config": {
    "view": {"stroke": null, "fill": "#151924"},
    "font": "Roboto",
    "axis": {"labelFont": "Roboto", "labelColor": "#b2b5be", "labelFontSize": 10.5, "titleFont": "Roboto"},
    "text": {"font": "Roboto"}
  }
}
